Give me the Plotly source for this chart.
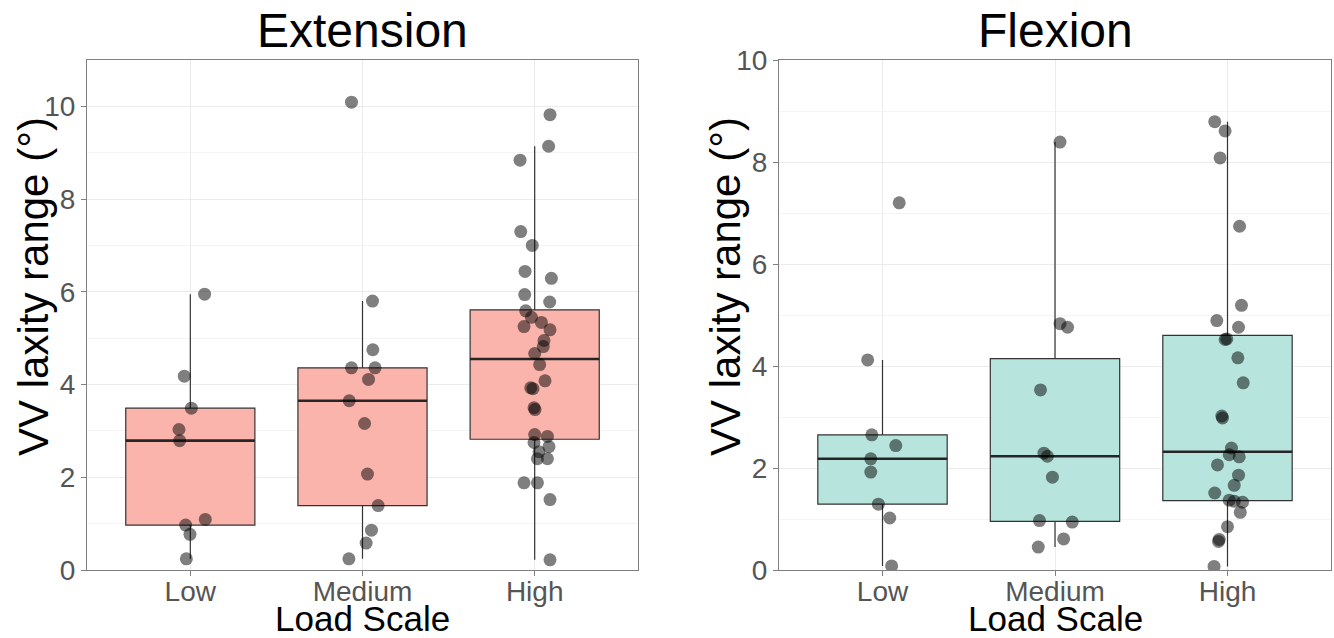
import plotly.graph_objects as go

# ---------------------------------------------------------------------------
# Data: VV laxity range (degrees) by load scale, for extension and flexion
# ---------------------------------------------------------------------------
load_levels = ["Low", "Medium", "High"]

# Extension – observed values
ext_low = [5.95, 4.18, 3.49, 3.03, 2.79, 1.09, 0.97, 0.77, 0.24]
ext_medium = [10.09, 5.80, 4.75, 4.36, 4.36, 4.11, 3.65, 3.16, 2.07, 1.39, 0.86, 0.58, 0.24]
ext_high = [9.82, 9.14, 8.84, 7.30, 7.00, 6.44, 6.29, 5.94, 5.78, 5.59, 5.45, 5.34,
            5.25, 5.18, 4.95, 4.82, 4.67, 4.43, 4.08, 3.93, 3.91, 3.50, 3.46, 2.92,
            2.88, 2.75, 2.66, 2.55, 2.40, 2.40, 1.88, 1.88, 1.52, 0.22]

# Extension – box summaries (lower whisker, Q1, median, Q3, upper whisker)
ext_lower = [0.24, 0.24, 0.22]
ext_q1 = [0.97, 1.39, 2.82]
ext_median = [2.79, 3.65, 4.55]
ext_q3 = [3.49, 4.36, 5.61]
ext_upper = [5.95, 5.80, 9.14]

# Flexion – observed values
flx_low = [7.20, 4.12, 2.65, 2.44, 2.18, 1.92, 1.29, 1.02, 0.08]
flx_medium = [8.39, 4.83, 4.76, 3.53, 2.29, 2.23, 1.82, 0.97, 0.94, 0.61, 0.45]
flx_high = [8.79, 8.61, 8.08, 6.74, 5.19, 4.89, 4.76, 4.53, 4.52, 4.16, 3.67, 3.02,
            2.98, 2.39, 2.26, 2.22, 2.06, 1.86, 1.66, 1.51, 1.37, 1.35, 1.33, 1.13,
            0.85, 0.60, 0.56, 0.07]

# Flexion – box summaries
flx_lower = [0.08, 0.45, 0.07]
flx_q1 = [1.29, 0.955, 1.36]
flx_median = [2.18, 2.23, 2.32]
flx_q3 = [2.65, 4.145, 4.60]
flx_upper = [4.12, 8.39, 8.79]

# Horizontal jitter of each observation (in category units)
ext_low_jit = [0.083, -0.035, 0.006, -0.066, -0.062, 0.087, -0.027, -0.002, -0.023]
ext_medium_jit = [-0.064, 0.058, 0.060, -0.064, 0.073, 0.035, -0.077, 0.012, 0.029,
                  0.091, 0.052, 0.021, -0.079]
ext_high_jit = [0.089, 0.081, -0.085, -0.081, -0.014, -0.056, 0.097, -0.058, 0.087,
                -0.052, -0.019, 0.039, -0.062, 0.089, 0.054, 0.050, 0.000, 0.029,
                0.060, -0.023, -0.010, -0.004, 0.002, 0.000, 0.074, -0.004, 0.083,
                0.025, 0.016, 0.074, -0.062, 0.016, 0.089, 0.089]
flx_low_jit = [0.097, -0.086, -0.062, 0.077, -0.068, -0.068, -0.024, 0.042, 0.053]
flx_medium_jit = [0.029, 0.029, 0.073, -0.084, -0.064, -0.044, -0.015, -0.090, 0.100,
                  0.050, -0.097]
flx_high_jit = [-0.074, -0.014, -0.043, 0.070, 0.081, -0.062, 0.064, -0.004, -0.014,
                0.060, 0.091, -0.033, -0.029, 0.023, 0.010, 0.068, -0.058, 0.064,
                0.039, -0.074, 0.010, 0.039, 0.087, 0.074, 0.000, -0.048, -0.052,
                -0.078]

# ---------------------------------------------------------------------------
FONT = "Liberation Sans, Arial, sans-serif"
BOX_WIDTH = 0.75
positions = [1, 2, 3]

fig = go.Figure()


def add_panel(xref, yref, fill, lower, q1, med, q3, upper, groups, jitters):
    fig.add_trace(go.Box(
        x=positions, q1=q1, median=med, q3=q3,
        lowerfence=lower, upperfence=upper,
        width=BOX_WIDTH, whiskerwidth=0, boxpoints=False,
        fillcolor=fill, line=dict(color="#333333", width=1.2),
        xaxis=xref, yaxis=yref, hoverinfo="skip",
    ))
    # heavier median bar
    for pos, m in zip(positions, med):
        fig.add_trace(go.Scatter(
            x=[pos - BOX_WIDTH / 2, pos + BOX_WIDTH / 2], y=[m, m],
            mode="lines", line=dict(color="#262626", width=2.6),
            xaxis=xref, yaxis=yref, hoverinfo="skip",
        ))
    # jittered observations
    for pos, vals, jit in zip(positions, groups, jitters):
        fig.add_trace(go.Scatter(
            x=[pos + j for j in jit], y=vals, mode="markers",
            marker=dict(size=13, color="rgba(0,0,0,0.5)", line=dict(width=0)),
            xaxis=xref, yaxis=yref, hoverinfo="skip",
        ))


add_panel("x", "y", "rgb(250,180,172)", ext_lower, ext_q1, ext_median, ext_q3, ext_upper,
          [ext_low, ext_medium, ext_high], [ext_low_jit, ext_medium_jit, ext_high_jit])
add_panel("x2", "y2", "rgb(183,229,221)", flx_lower, flx_q1, flx_median, flx_q3, flx_upper,
          [flx_low, flx_medium, flx_high], [flx_low_jit, flx_medium_jit, flx_high_jit])

W, H = 1334, 638
y_dom = [(H - 570) / H, (H - 60) / H]

xaxis_common = dict(
    range=[0.4, 3.6], tickvals=positions, ticktext=load_levels,
    showgrid=True, gridcolor="#ebebeb", gridwidth=1, zeroline=False,
    showline=True, mirror=True, linecolor="#808080", linewidth=1,
    ticks="outside", ticklen=5, tickcolor="#808080", automargin=False,
    ticklabelstandoff=-9,
    tickfont=dict(family=FONT, size=28, color="#555555"),
)
yaxis_common = dict(
    dtick=2, tick0=0, showgrid=True, gridcolor="#ebebeb", gridwidth=1, zeroline=False,
    minor=dict(dtick=1, showgrid=True, gridcolor="#f4f4f4", gridwidth=0.8),
    showline=True, mirror=True, linecolor="#808080", linewidth=1,
    ticks="outside", ticklen=5, tickcolor="#808080", automargin=False,
    tickfont=dict(family=FONT, size=28, color="#555555"),
)

fig.update_layout(
    width=W, height=H,
    margin=dict(l=0, r=0, t=0, b=0, pad=0, autoexpand=False),
    paper_bgcolor="white", plot_bgcolor="white",
    showlegend=False, hovermode=False,
    xaxis=dict(domain=[87 / W, 638 / W], anchor="y", **xaxis_common),
    yaxis=dict(domain=y_dom, anchor="x", range=[0, 11], **yaxis_common),
    xaxis2=dict(domain=[779 / W, 1331 / W], anchor="y2", **xaxis_common),
    yaxis2=dict(domain=y_dom, anchor="x2", range=[0, 10], **yaxis_common),
)

annotations = [
    dict(text="Extension", x=362.5 / W, y=(H - 30) / H, font=dict(size=48)),
    dict(text="Flexion", x=1055 / W, y=(H - 30) / H, font=dict(size=48)),
    dict(text="Load Scale", x=362.5 / W, y=(H - 618) / H, font=dict(size=35)),
    dict(text="Load Scale", x=1055 / W, y=(H - 618) / H, font=dict(size=35)),
    dict(text="VV laxity range (°)", x=33 / W, y=(H - 287) / H, font=dict(size=42),
         textangle=-90),
    dict(text="VV laxity range (°)", x=725 / W, y=(H - 287) / H, font=dict(size=42),
         textangle=-90),
]
for a in annotations:
    a.update(xref="paper", yref="paper", xanchor="center", yanchor="middle",
             showarrow=False)
    a["font"].update(family=FONT, color="black")
fig.update_layout(annotations=annotations)

fig.write_html("out.html")
